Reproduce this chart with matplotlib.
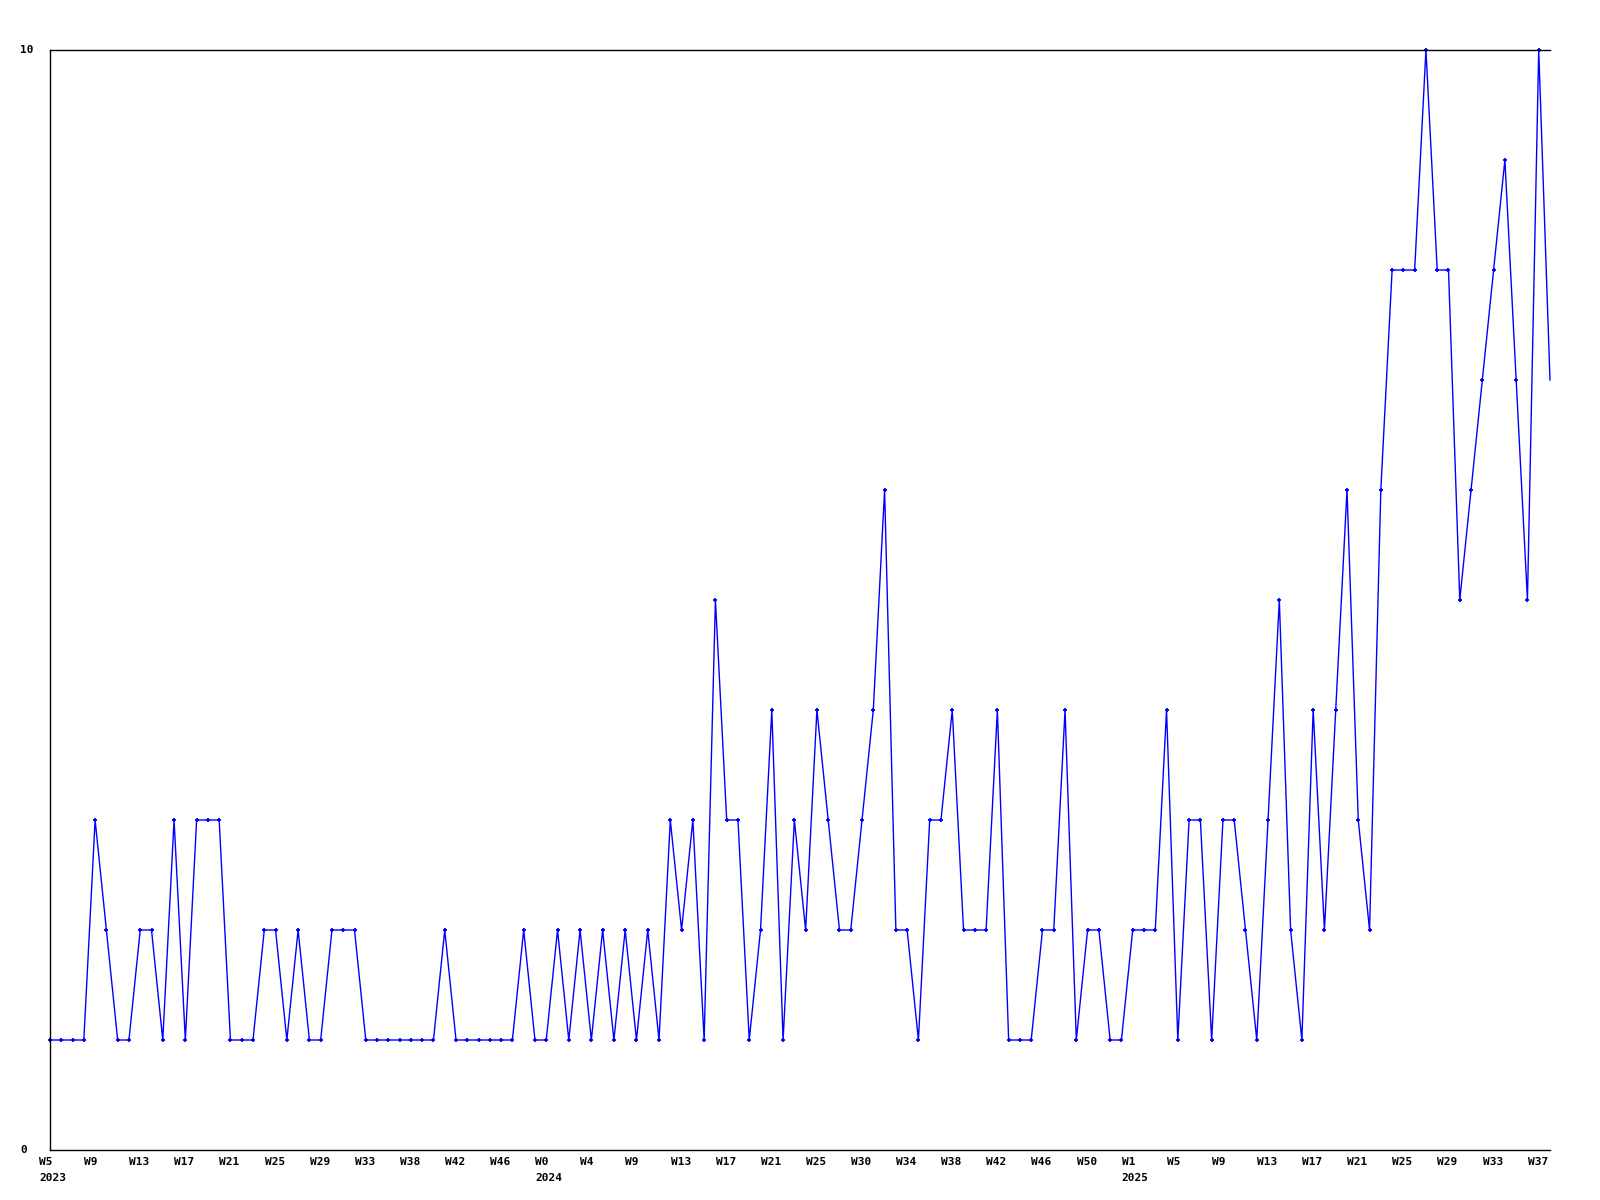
#!/usr/bin/env python3
"""Weekly count line chart, 2023 W5 .. 2025 W38."""

import matplotlib

matplotlib.use("Agg")
import matplotlib.pyplot as plt
import matplotlib.transforms as mtransforms
import numpy as np

# one value per week (134 points)
values = [
    1, 1, 1, 1, 3, 2, 1, 1, 2, 2, 1, 3, 1, 3, 3, 3, 1, 1, 1, 2,
    2, 1, 2, 1, 1, 2, 2, 2, 1, 1, 1, 1, 1, 1, 1, 2, 1, 1, 1, 1,
    1, 1, 2, 1, 1, 2, 1, 2, 1, 2, 1, 2, 1, 2, 1, 3, 2, 3, 1, 5,
    3, 3, 1, 2, 4, 1, 3, 2, 4, 3, 2, 2, 3, 4, 6, 2, 2, 1, 3, 3,
    4, 2, 2, 2, 4, 1, 1, 1, 2, 2, 4, 1, 2, 2, 1, 1, 2, 2, 2, 4,
    1, 3, 3, 1, 3, 3, 2, 1, 3, 5, 2, 1, 4, 2, 4, 6, 3, 2, 6, 8,
    8, 8, 10, 8, 8, 5, 6, 7, 8, 9, 7, 5, 10, 7,
]

# labels shown on every 4th point
week_labels = [
    "W5", "W9", "W13", "W17", "W21", "W25", "W29", "W33", "W38", "W42", "W46",
    "W0", "W4", "W9", "W13", "W17", "W21", "W25", "W30", "W34", "W38", "W42",
    "W46", "W50", "W1", "W5", "W9", "W13", "W17", "W21", "W25", "W29", "W33",
    "W37",
]
label_step = 4
year_labels = ["2023", "2024", "2025"]
year_idx = [0, 44, 96]

y_ticks = [0, 10]

fig = plt.figure(figsize=(16, 12), dpi=100)
ax = fig.add_axes([50 / 1600, 50 / 1200, 1500 / 1600, 1100 / 1200])

x = np.arange(len(values))
ax.plot(x, values, color="#0000ff", lw=1.0, marker="+", ms=3, mew=1.3,
        markevery=list(range(len(values) - 1)), clip_on=False)

ax.set_xlim(0, len(values) - 1)
ax.set_ylim(0, 10)
ax.set_xticks([])
ax.set_yticks([])
for side in ("left", "top", "bottom"):
    ax.spines[side].set_linewidth(1.0)
    ax.spines[side].set_color("black")
ax.spines["right"].set_visible(False)

font = dict(family="DejaVu Sans Mono", fontsize=8, fontweight="bold")

# x labels, left-aligned a little before each tick
shift = mtransforms.ScaledTranslation(-11 / 100, 0, fig.dpi_scale_trans)
xtrans = ax.get_xaxis_transform() + shift
for k, lab in enumerate(week_labels):
    ax.text(k * label_step, -0.0065, lab, transform=xtrans, ha="left",
            va="top", **font)
for idx, lab in zip(year_idx, year_labels):
    ax.text(idx, -0.0205, lab, transform=xtrans, ha="left", va="top", **font)

# y labels at left edge of figure
ytrans = mtransforms.blended_transform_factory(fig.transFigure, ax.transData)
for v in y_ticks:
    ax.text(20 / 1600, v, str(v), transform=ytrans, ha="left", va="center",
            **font)

fig.savefig("out.png", dpi=100)
